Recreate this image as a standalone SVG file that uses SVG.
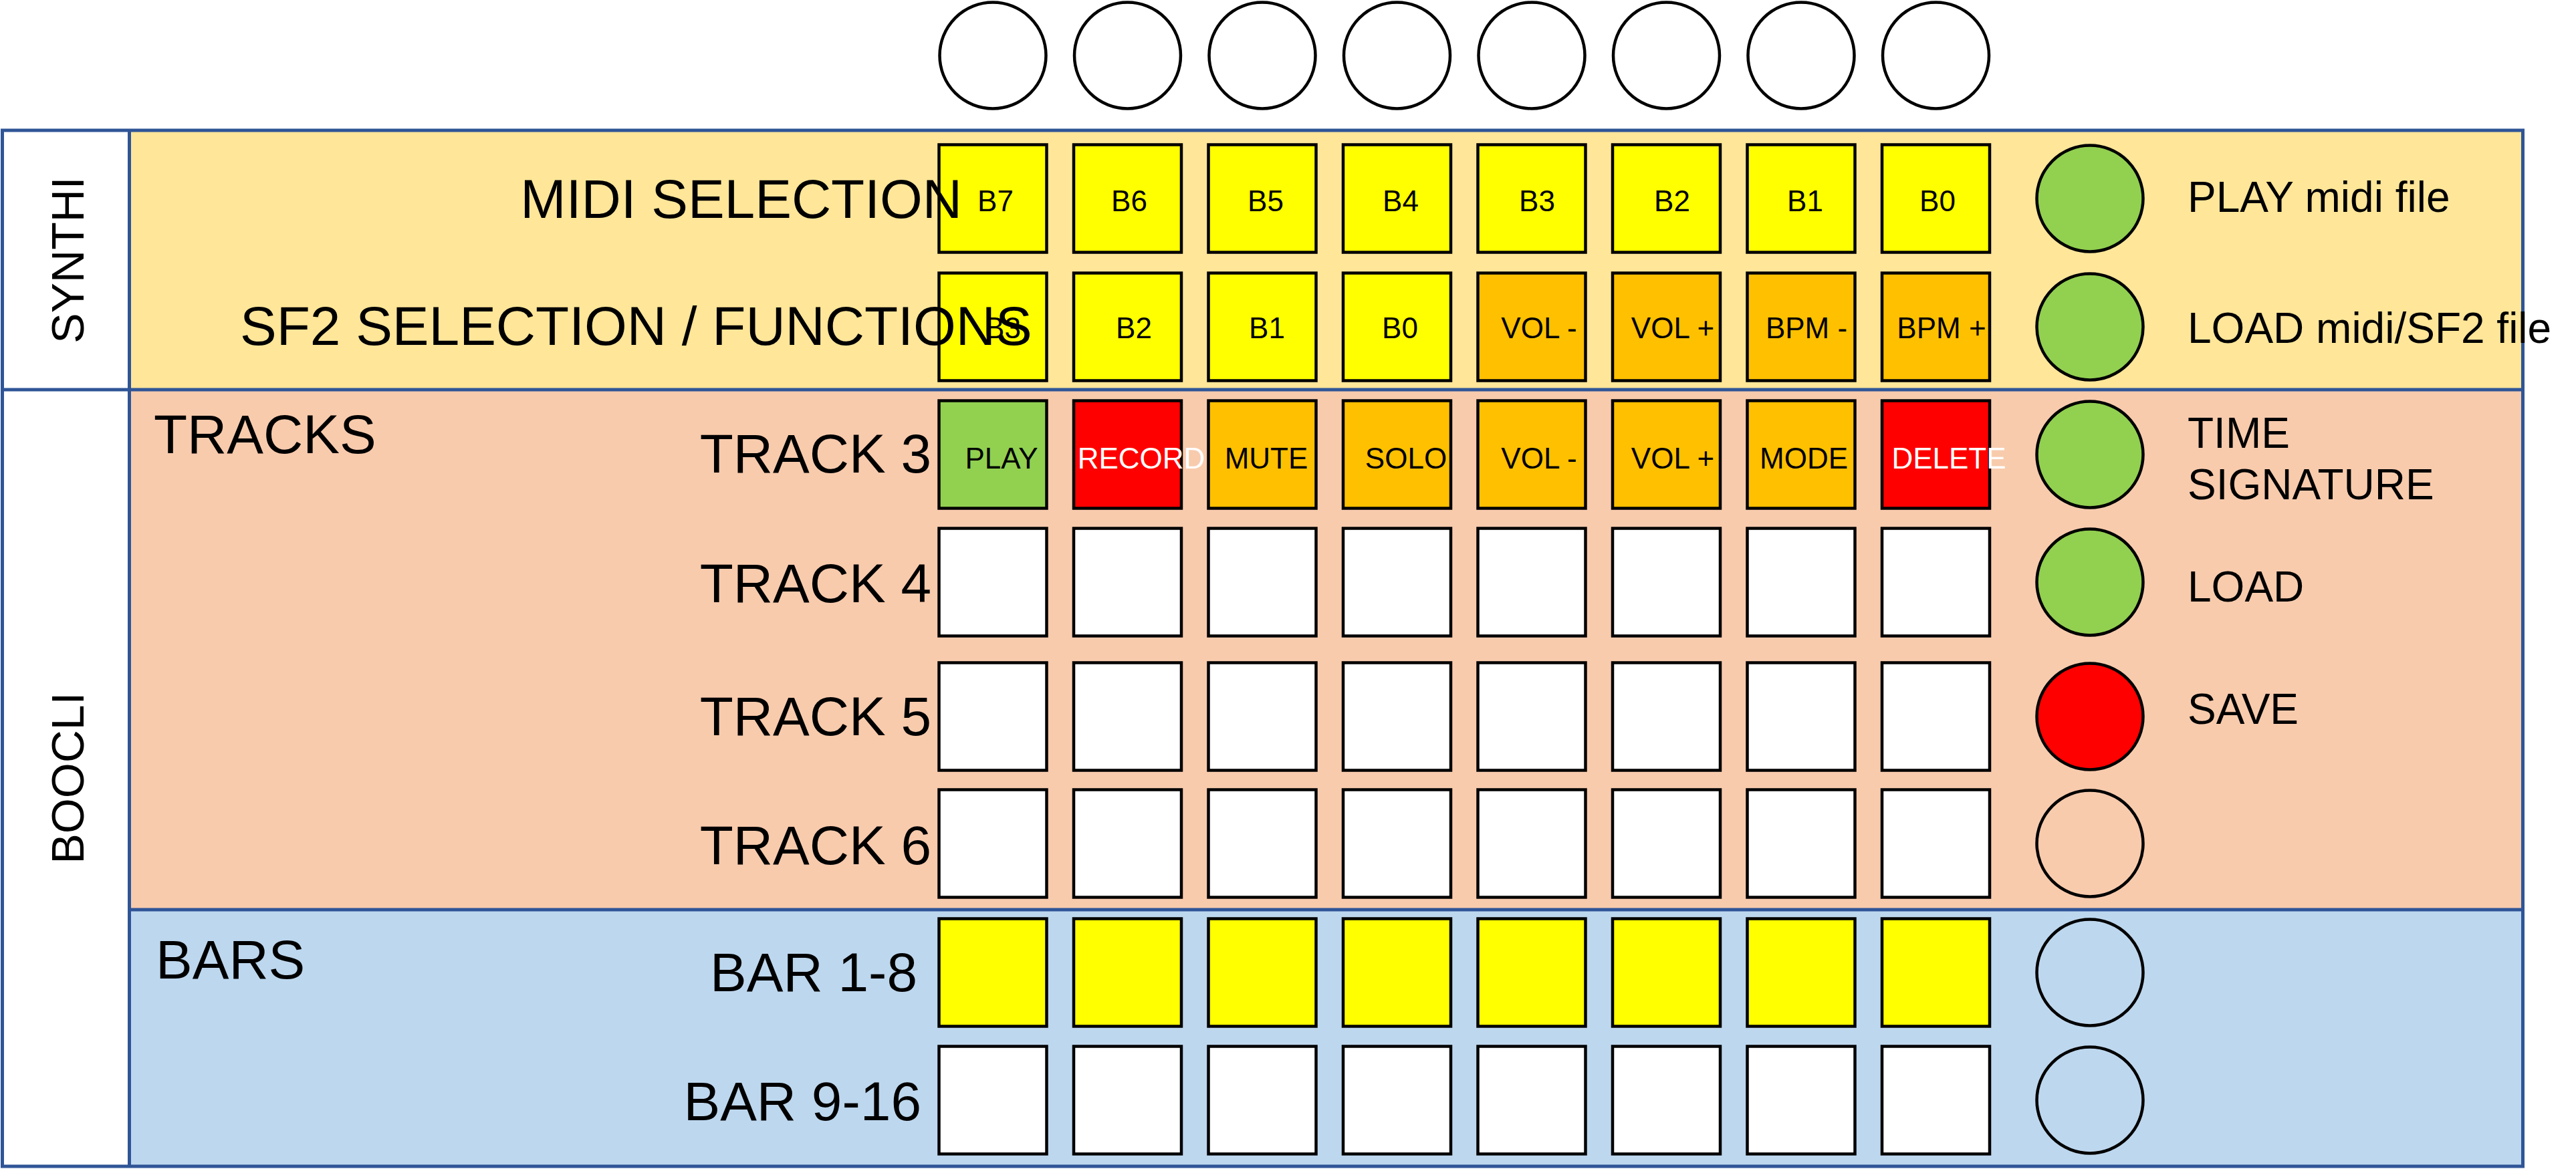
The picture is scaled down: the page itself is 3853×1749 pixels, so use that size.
<svg xmlns="http://www.w3.org/2000/svg" width="3853" height="1749" viewBox="0 0 3853 1749">
<style>
.bd{stroke:#2F5597;stroke-width:5;fill:none}
.btn{stroke:#000;stroke-width:4.5}
.led{stroke:#000;stroke-width:4.5}
.w{fill:#FFFFFF}.y{fill:#FFFF00}.o{fill:#FFC000}.g{fill:#92D050}.r{fill:#FF0000}.n{fill:none}
text{font-family:"Liberation Sans",Arial,sans-serif;fill:#000}
.big{font-size:82px}
.side{font-size:68px}
.lbl{font-size:64px}
.bt{font-size:44px;text-anchor:middle}
.wt{fill:#FFFFFF}
</style>
<rect width="3853" height="1749" fill="#FFFFFF"/>
<g id="panel">
<rect x="193.5" y="195" width="3580" height="388" fill="#FFE699"/>
<rect x="193.5" y="583" width="3580" height="778" fill="#F8CBAD"/>
<rect x="193.5" y="1361" width="3580" height="384" fill="#BDD7EE"/>
<rect class="bd" x="3.5" y="195" width="3770" height="1550"/>
<line class="bd" x1="193.5" y1="195" x2="193.5" y2="1745"/>
<line class="bd" x1="3.5" y1="583" x2="3773.5" y2="583"/>
<line class="bd" x1="193.5" y1="1361" x2="3773.5" y2="1361"/>
<text class="side" text-anchor="middle" transform="translate(125,389) rotate(-90)">SYNTHI</text>
<text class="side" text-anchor="middle" transform="translate(125,1164) rotate(-90)">BOOCLI</text>
</g>
<g id="top-knobs">
<circle class="led w" cx="1485" cy="83" r="79.5"/>
<circle class="led w" cx="1686.5" cy="83" r="79.5"/>
<circle class="led w" cx="1888" cy="83" r="79.5"/>
<circle class="led w" cx="2089.5" cy="83" r="79.5"/>
<circle class="led w" cx="2291" cy="83" r="79.5"/>
<circle class="led w" cx="2492.5" cy="83" r="79.5"/>
<circle class="led w" cx="2694" cy="83" r="79.5"/>
<circle class="led w" cx="2895.5" cy="83" r="79.5"/>
</g>
<g id="row-midi">
<rect class="btn y" x="1404.5" y="216.5" width="161" height="161"/>
<rect class="btn y" x="1606" y="216.5" width="161" height="161"/>
<rect class="btn y" x="1807.5" y="216.5" width="161" height="161"/>
<rect class="btn y" x="2009" y="216.5" width="161" height="161"/>
<rect class="btn y" x="2210.5" y="216.5" width="161" height="161"/>
<rect class="btn y" x="2412" y="216.5" width="161" height="161"/>
<rect class="btn y" x="2613.5" y="216.5" width="161" height="161"/>
<rect class="btn y" x="2815" y="216.5" width="161" height="161"/>
<text class="bt" x="1489" y="316">B7</text>
<text class="bt" x="1689" y="316">B6</text>
<text class="bt" x="1893" y="316">B5</text>
<text class="bt" x="2095" y="316">B4</text>
<text class="bt" x="2299" y="316">B3</text>
<text class="bt" x="2501" y="316">B2</text>
<text class="bt" x="2700" y="316">B1</text>
<text class="bt" x="2898" y="316">B0</text>
<circle class="led g" cx="3126" cy="297" r="79.5"/>
<text class="lbl" x="3272" y="317">PLAY midi file</text>
<text class="big" x="1439" y="326" text-anchor="end">MIDI SELECTION</text>
</g>
<g id="row-sf2">
<rect class="btn y" x="1404.5" y="408.5" width="161" height="161"/>
<rect class="btn y" x="1606" y="408.5" width="161" height="161"/>
<rect class="btn y" x="1807.5" y="408.5" width="161" height="161"/>
<rect class="btn y" x="2009" y="408.5" width="161" height="161"/>
<rect class="btn o" x="2210.5" y="408.5" width="161" height="161"/>
<rect class="btn o" x="2412" y="408.5" width="161" height="161"/>
<rect class="btn o" x="2613.5" y="408.5" width="161" height="161"/>
<rect class="btn o" x="2815" y="408.5" width="161" height="161"/>
<text class="bt" x="1500" y="506">B3</text>
<text class="bt" x="1696" y="506">B2</text>
<text class="bt" x="1895" y="506">B1</text>
<text class="bt" x="2094" y="506">B0</text>
<text class="bt" x="2302" y="506">VOL -</text>
<text class="bt" x="2502" y="506">VOL +</text>
<text class="bt" x="2702" y="506">BPM -</text>
<text class="bt" x="2904" y="506">BPM +</text>
<circle class="led g" cx="3126" cy="489" r="79.5"/>
<text class="lbl" x="3272" y="513">LOAD midi/SF2 file</text>
<text class="big" x="359" y="516">SF2 SELECTION / FUNCTIONS</text>
</g>
<g id="row-track3">
<rect class="btn g" x="1404.5" y="599.5" width="161" height="161"/>
<rect class="btn r" x="1606" y="599.5" width="161" height="161"/>
<rect class="btn o" x="1807.5" y="599.5" width="161" height="161"/>
<rect class="btn o" x="2009" y="599.5" width="161" height="161"/>
<rect class="btn o" x="2210.5" y="599.5" width="161" height="161"/>
<rect class="btn o" x="2412" y="599.5" width="161" height="161"/>
<rect class="btn o" x="2613.5" y="599.5" width="161" height="161"/>
<rect class="btn r" x="2815" y="599.5" width="161" height="161"/>
<text class="bt" x="1498" y="701">PLAY</text>
<text class="bt wt" x="1707" y="701">RECORD</text>
<text class="bt" x="1894" y="701">MUTE</text>
<text class="bt" x="2103" y="701">SOLO</text>
<text class="bt" x="2302" y="701">VOL -</text>
<text class="bt" x="2502" y="701">VOL +</text>
<text class="bt" x="2698" y="701">MODE</text>
<text class="bt wt" x="2915" y="701">DELETE</text>
<circle class="led g" cx="3126" cy="680" r="79.5"/>
<text class="lbl" x="3272" y="670">TIME</text>
<text class="lbl" x="3272" y="747">SIGNATURE</text>
<text class="big" x="230" y="678">TRACKS</text>
<text class="big" x="1393" y="707" text-anchor="end">TRACK 3</text>
</g>
<g id="row-track4">
<rect class="btn w" x="1404.5" y="790.5" width="161" height="161"/>
<rect class="btn w" x="1606" y="790.5" width="161" height="161"/>
<rect class="btn w" x="1807.5" y="790.5" width="161" height="161"/>
<rect class="btn w" x="2009" y="790.5" width="161" height="161"/>
<rect class="btn w" x="2210.5" y="790.5" width="161" height="161"/>
<rect class="btn w" x="2412" y="790.5" width="161" height="161"/>
<rect class="btn w" x="2613.5" y="790.5" width="161" height="161"/>
<rect class="btn w" x="2815" y="790.5" width="161" height="161"/>
<circle class="led g" cx="3126" cy="871" r="79.5"/>
<text class="lbl" x="3272" y="900">LOAD</text>
<text class="big" x="1393" y="901" text-anchor="end">TRACK 4</text>
</g>
<g id="row-track5">
<rect class="btn w" x="1404.5" y="991.5" width="161" height="161"/>
<rect class="btn w" x="1606" y="991.5" width="161" height="161"/>
<rect class="btn w" x="1807.5" y="991.5" width="161" height="161"/>
<rect class="btn w" x="2009" y="991.5" width="161" height="161"/>
<rect class="btn w" x="2210.5" y="991.5" width="161" height="161"/>
<rect class="btn w" x="2412" y="991.5" width="161" height="161"/>
<rect class="btn w" x="2613.5" y="991.5" width="161" height="161"/>
<rect class="btn w" x="2815" y="991.5" width="161" height="161"/>
<circle class="led r" cx="3126" cy="1072" r="79.5"/>
<text class="lbl" x="3272" y="1083">SAVE</text>
<text class="big" x="1393" y="1100" text-anchor="end">TRACK 5</text>
</g>
<g id="row-track6">
<rect class="btn w" x="1404.5" y="1181.5" width="161" height="161"/>
<rect class="btn w" x="1606" y="1181.5" width="161" height="161"/>
<rect class="btn w" x="1807.5" y="1181.5" width="161" height="161"/>
<rect class="btn w" x="2009" y="1181.5" width="161" height="161"/>
<rect class="btn w" x="2210.5" y="1181.5" width="161" height="161"/>
<rect class="btn w" x="2412" y="1181.5" width="161" height="161"/>
<rect class="btn w" x="2613.5" y="1181.5" width="161" height="161"/>
<rect class="btn w" x="2815" y="1181.5" width="161" height="161"/>
<circle class="led n" cx="3126" cy="1262" r="79.5"/>
<text class="big" x="1393" y="1293" text-anchor="end">TRACK 6</text>
</g>
<g id="row-bar1">
<rect class="btn y" x="1404.5" y="1374.5" width="161" height="161"/>
<rect class="btn y" x="1606" y="1374.5" width="161" height="161"/>
<rect class="btn y" x="1807.5" y="1374.5" width="161" height="161"/>
<rect class="btn y" x="2009" y="1374.5" width="161" height="161"/>
<rect class="btn y" x="2210.5" y="1374.5" width="161" height="161"/>
<rect class="btn y" x="2412" y="1374.5" width="161" height="161"/>
<rect class="btn y" x="2613.5" y="1374.5" width="161" height="161"/>
<rect class="btn y" x="2815" y="1374.5" width="161" height="161"/>
<circle class="led n" cx="3126" cy="1455" r="79.5"/>
<text class="big" x="233" y="1464">BARS</text>
<text class="big" x="1372" y="1483" text-anchor="end">BAR 1-8</text>
</g>
<g id="row-bar2">
<rect class="btn w" x="1404.5" y="1565.5" width="161" height="161"/>
<rect class="btn w" x="1606" y="1565.5" width="161" height="161"/>
<rect class="btn w" x="1807.5" y="1565.5" width="161" height="161"/>
<rect class="btn w" x="2009" y="1565.5" width="161" height="161"/>
<rect class="btn w" x="2210.5" y="1565.5" width="161" height="161"/>
<rect class="btn w" x="2412" y="1565.5" width="161" height="161"/>
<rect class="btn w" x="2613.5" y="1565.5" width="161" height="161"/>
<rect class="btn w" x="2815" y="1565.5" width="161" height="161"/>
<circle class="led n" cx="3126" cy="1646" r="79.5"/>
<text class="big" x="1378" y="1676" text-anchor="end">BAR 9-16</text>
</g>
<g id="connectors"/>
</svg>
